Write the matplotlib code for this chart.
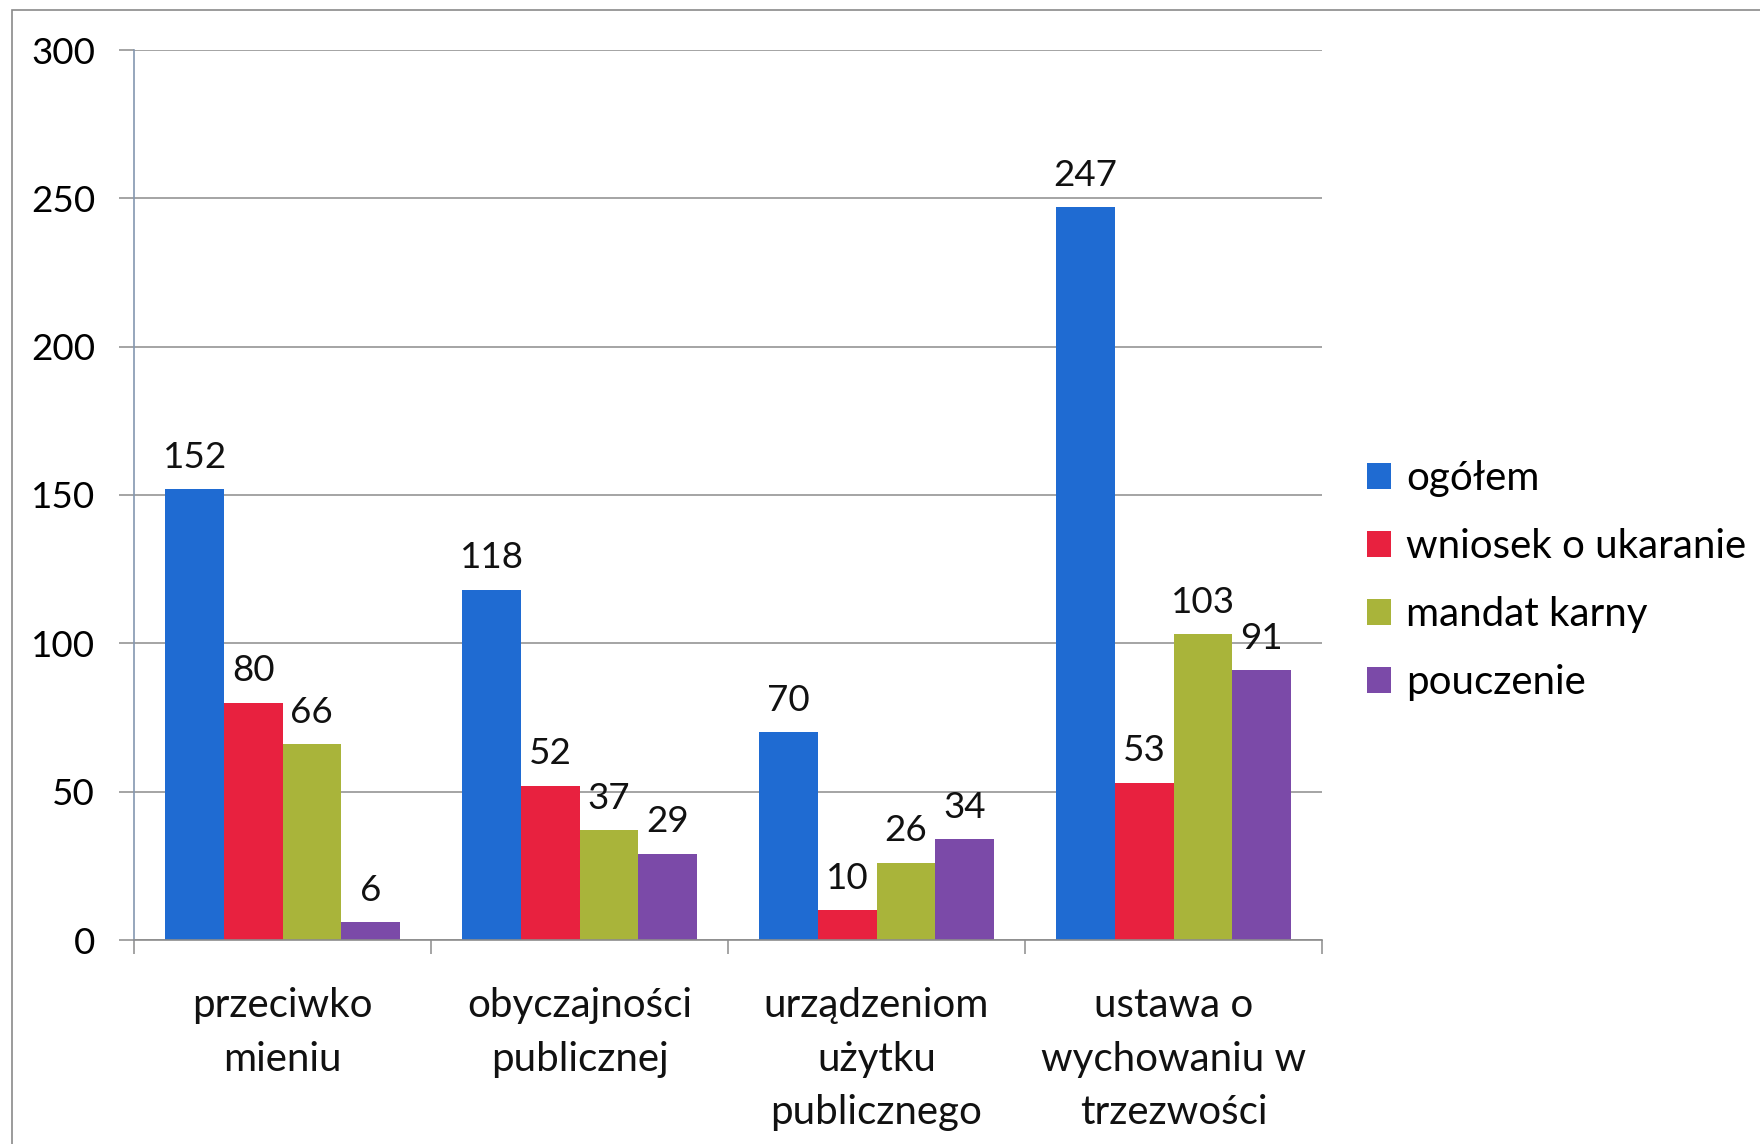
import matplotlib
matplotlib.use("Agg")
import matplotlib.pyplot as plt
from matplotlib.patches import Rectangle
import numpy as np

plt.rcParams['font.family'] = ['Lato', 'DejaVu Sans']

categories = ["przeciwko\nmieniu", "obyczajności\npublicznej",
              "urządzeniom\nużytku\npublicznego", "ustawa o\nwychowaniu w\ntrzezwości"]
series_names = ["ogółem", "wniosek o ukaranie", "mandat karny", "pouczenie"]
ogolem = [152, 118, 70, 247]
wniosek = [80, 52, 10, 53]
mandat = [66, 37, 26, 103]
pouczenie = [6, 29, 34, 91]
colors = ["#1F6BD2", "#E8213F", "#A9B43A", "#7B4AA8"]
y_ticks = [0, 50, 100, 150, 200, 250, 300]

W, H = 1760, 1144
fig = plt.figure(figsize=(W / 100, H / 100), dpi=100)

# outer chart frame (runs off the right/bottom of the scan)
fig.patches.append(Rectangle((12 / W, -0.01), 1.0, 1 - 10 / H + 0.01,
                             transform=fig.transFigure, fill=False,
                             edgecolor="#8a8a8a", linewidth=1.2))

ax = fig.add_axes([134 / W, 1 - 940 / H, 1188 / W, 890 / H])

NUM_FS = 26.5
TXT_FS = 29

x = np.arange(len(categories))
bw = 0.197
all_series = [ogolem, wniosek, mandat, pouczenie]
for i, (vals, name, col) in enumerate(zip(all_series, series_names, colors)):
    pos = x + (i - 1.5) * bw
    bars = ax.bar(pos, vals, width=bw, color=col, label=name, linewidth=0)
    for b, v in zip(bars, vals):
        ax.annotate(str(v), (b.get_x() + b.get_width() / 2, v),
                    xytext=(0, 15.5), textcoords="offset points",
                    ha="center", va="baseline", fontsize=NUM_FS, color="#111111")

ax.set_xlim(-0.5, 3.5)
ax.set_ylim(0, 300)
ax.set_yticks(y_ticks)
ax.yaxis.grid(True, color="#8c8c8c", linewidth=1.1)
ax.set_axisbelow(True)
ax.tick_params(axis="y", length=11, width=1.1, color="#8c8c8c", pad=17, labelsize=NUM_FS)

ax.set_xticks(np.arange(-0.5, 4.0, 1.0))
ax.set_xticklabels([])
ax.tick_params(axis="x", length=10, width=1.1, color="#8c8c8c", direction="out")
for xi, lab in zip(x, categories):
    ax.text(xi, -16, lab, ha="center", va="top", fontsize=TXT_FS,
            linespacing=1.55, color="#111111")

for s in ["top", "right"]:
    ax.spines[s].set_visible(False)
ax.spines["left"].set_color("#8497b0")
ax.spines["left"].set_linewidth(1.2)
ax.spines["bottom"].set_color("#8c8c8c")
ax.spines["bottom"].set_linewidth(1.2)

leg = ax.legend(loc="center left", bbox_to_anchor=(1.038, 0.404), frameon=False,
                fontsize=TXT_FS, handlelength=0.6, handleheight=0.6,
                handletextpad=0.36, labelspacing=0.77, borderpad=0, borderaxespad=0)

fig.savefig("out.png", dpi=100, facecolor="white")
